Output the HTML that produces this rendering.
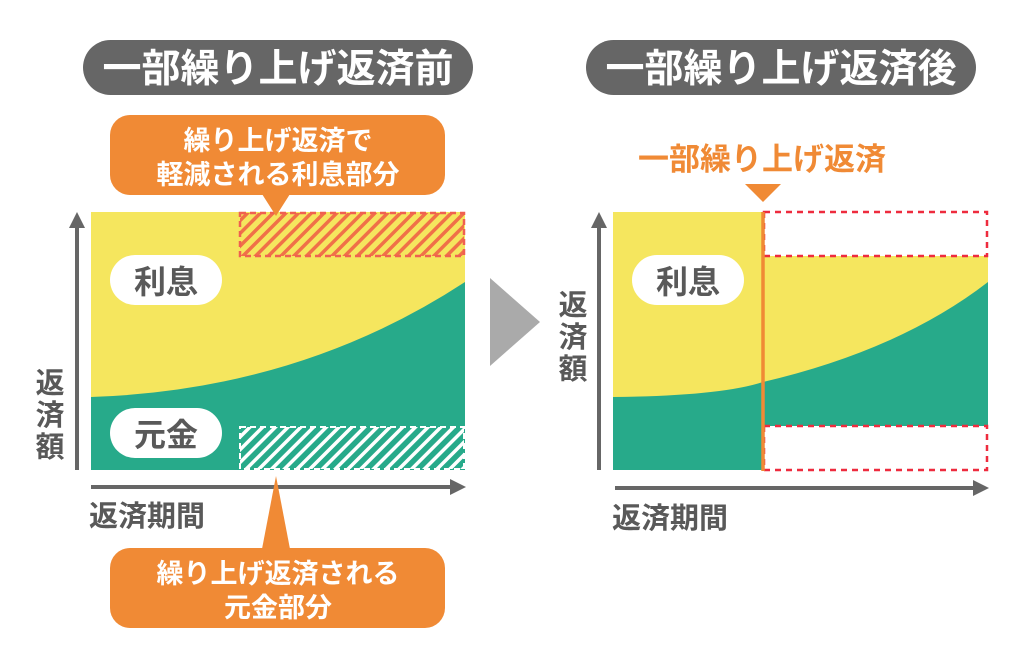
<!DOCTYPE html>
<html><head><meta charset="utf-8"><style>
html,body{margin:0;padding:0;background:#fff;width:1024px;height:666px;overflow:hidden}
svg text{font-family:"Liberation Sans","Noto Sans CJK JP",sans-serif;font-weight:bold}
</style></head><body>
<svg width="1024" height="666" viewBox="0 0 1024 666" xmlns="http://www.w3.org/2000/svg">
<defs>
<pattern id="hr" patternUnits="userSpaceOnUse" width="9" height="9" patternTransform="rotate(45)">
<rect width="9" height="9" fill="#f5e65e"/><rect width="3.5" height="9" fill="#f07048"/></pattern>
<pattern id="hg" patternUnits="userSpaceOnUse" width="9" height="9" patternTransform="rotate(45)">
<rect width="9" height="9" fill="#27aa8a"/><rect width="3.5" height="9" fill="#fff"/></pattern>
</defs>
<rect x="83" y="40" width="390" height="55" rx="27.5" fill="#666"/>
<text x="278" y="82" font-size="39" fill="#fff" text-anchor="middle">一部繰り上げ返済前</text>
<rect x="586" y="40" width="390" height="55" rx="27.5" fill="#666"/>
<text x="781" y="82" font-size="39" fill="#fff" text-anchor="middle">一部繰り上げ返済後</text>
<rect x="91" y="212" width="374" height="258" fill="#f5e65e"/>
<path d="M91,397 Q300,390 465,282 L465,470 L91,470 Z" fill="#27aa8a"/>
<rect x="240" y="213" width="224" height="43" fill="url(#hr)" stroke="#f06050" stroke-width="2.5" stroke-dasharray="6,4"/>
<rect x="240" y="427" width="224" height="42" fill="url(#hg)" stroke="#fff" stroke-width="2" stroke-dasharray="6,4"/>
<rect x="110" y="255" width="112" height="50" rx="25" fill="#fff"/>
<text x="166" y="293" font-size="32" fill="#595959" text-anchor="middle">利息</text>
<rect x="110" y="408" width="112" height="50" rx="25" fill="#fff"/>
<text x="166" y="446" font-size="32" fill="#595959" text-anchor="middle">元金</text>
<line x1="77" y1="470" x2="77" y2="225" stroke="#666" stroke-width="4"/>
<path d="M69,228 L77,212 L85,228 Z" fill="#666"/>
<line x1="91" y1="487" x2="452" y2="487" stroke="#666" stroke-width="4"/>
<path d="M450,479 L466,487 L450,495 Z" fill="#666"/>
<text font-size="29" fill="#595959" text-anchor="middle"><tspan x="50" y="393">返</tspan><tspan x="50" y="425">済</tspan><tspan x="50" y="457">額</tspan></text>
<text x="89" y="526" font-size="29" fill="#595959">返済期間</text>
<rect x="110" y="115" width="335" height="80" rx="20" fill="#f08a35"/>
<path d="M262,194 L290,194 L276,216 Z" fill="#f08a35"/>
<text x="278" y="150" font-size="27" fill="#fff" text-anchor="middle">繰り上げ返済で</text>
<text x="278" y="184" font-size="27" fill="#fff" text-anchor="middle">軽減される利息部分</text>
<rect x="110" y="548" width="335" height="80" rx="20" fill="#f08a35"/>
<path d="M262,549 L290,549 L276,476 Z" fill="#f08a35"/>
<text x="278" y="583" font-size="27" fill="#fff" text-anchor="middle">繰り上げ返済される</text>
<text x="278" y="617" font-size="27" fill="#fff" text-anchor="middle">元金部分</text>
<path d="M490,278 L540,322 L490,366 Z" fill="#aaa"/>
<rect x="613" y="212" width="150" height="258" fill="#f5e65e"/>
<path d="M613,397 Q720,396 763,382 L763,470 L613,470 Z" fill="#27aa8a"/>
<rect x="763" y="256" width="225" height="170" fill="#f5e65e"/>
<path d="M763,382 Q900,350 988,282 L988,426 L763,426 Z" fill="#27aa8a"/>
<rect x="764" y="212" width="223" height="44" fill="#fff" stroke="#ee2b3e" stroke-width="2.5" stroke-dasharray="6,5"/>
<rect x="764" y="426" width="223" height="44" fill="#fff" stroke="#ee2b3e" stroke-width="2.5" stroke-dasharray="6,5"/>
<line x1="763" y1="212" x2="763" y2="471" stroke="#f08a35" stroke-width="3.5"/>
<rect x="632" y="255" width="112" height="50" rx="25" fill="#fff"/>
<text x="688" y="293" font-size="32" fill="#595959" text-anchor="middle">利息</text>
<text x="762" y="170" font-size="31" fill="#f08a35" text-anchor="middle">一部繰り上げ返済</text>
<path d="M745,184 L781,184 L763,202 Z" fill="#f08a35"/>
<line x1="599" y1="470" x2="599" y2="225" stroke="#666" stroke-width="4"/>
<path d="M591,228 L599,212 L607,228 Z" fill="#666"/>
<line x1="615" y1="488" x2="975" y2="488" stroke="#666" stroke-width="4"/>
<path d="M973,480 L989,488 L973,496 Z" fill="#666"/>
<text font-size="29" fill="#595959" text-anchor="middle"><tspan x="573" y="315">返</tspan><tspan x="573" y="347">済</tspan><tspan x="573" y="379">額</tspan></text>
<text x="612" y="528" font-size="29" fill="#595959">返済期間</text>
</svg>
</body></html>
